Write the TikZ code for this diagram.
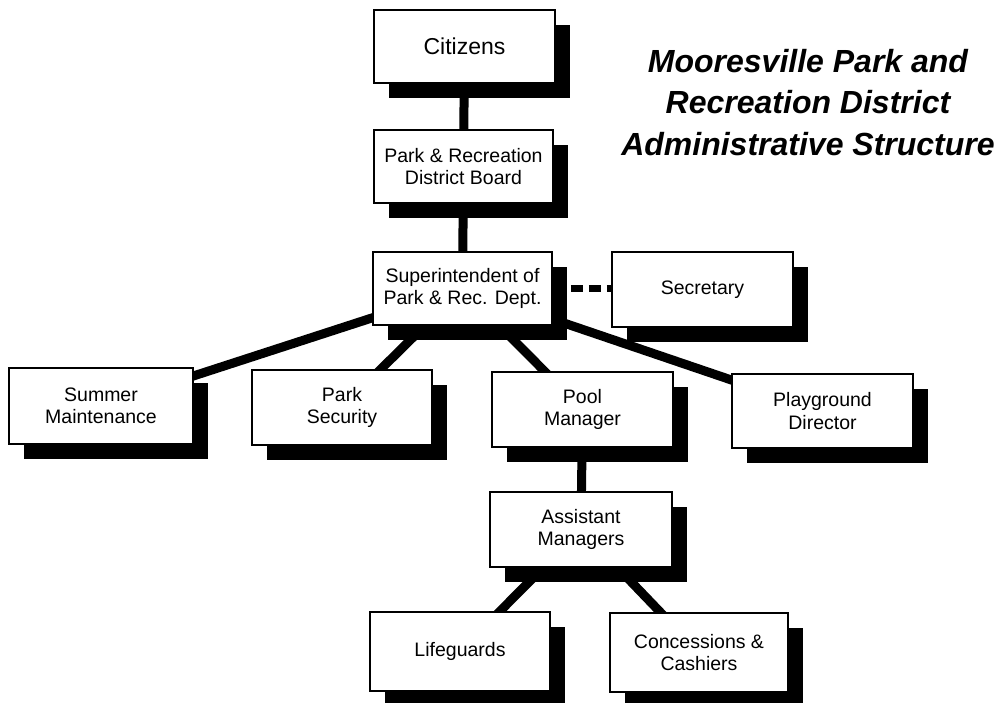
\documentclass[tikz,border=0pt]{standalone}
\usepackage{fontspec}
\setmainfont{Liberation Sans}
\usetikzlibrary{shadows,backgrounds}
\begin{document}
\begin{tikzpicture}[x=1pt,y=-1pt,
  box/.style={draw=black, line width=1.6pt, fill=white, inner sep=0pt, align=center,
    font=\fontsize{19.5}{22.5}\selectfont,
    drop shadow={shadow xshift=15pt, shadow yshift=-15pt, fill=black, opacity=1}},
  link/.style={line width=9pt},
  dashlink/.style={line width=6.5pt, dash pattern=on 12pt off 6pt}]
\useasboundingbox (0,0) rectangle (1006,702);
% boxes
\node[box, minimum width=181pt, minimum height=73pt, font=\fontsize{23}{26}\selectfont] (cit) at (464.5,46.5) {Citizens};
\node[box, minimum width=179pt, minimum height=73pt] (board) at (463.5,166.5) {Park \& Recreation\\District Board};
\node[box, minimum width=179pt, minimum height=73pt] (sup) at (462.5,288.5) {Superintendent of\\Park \& Rec. Dept.};
\node[box, minimum width=181pt, minimum height=75pt] (sec) at (702.5,289.5) {Secretary};
\node[box, minimum width=184pt, minimum height=76pt] (sum) at (101,406) {Summer\\Maintenance};
\node[box, minimum width=180pt, minimum height=75pt] (secu) at (342,407.5) {Park\\Security};
\node[box, minimum width=181pt, minimum height=75pt] (pool) at (582.5,409.5) {Pool\\Manager};
\node[box, minimum width=181pt, minimum height=74pt] (play) at (822.5,411) {Playground\\Director};
\node[box, minimum width=182pt, minimum height=75pt] (asst) at (581,529.5) {Assistant\\Managers};
\node[box, minimum width=180pt, minimum height=79pt] (life) at (460,651.5) {Lifeguards};
\node[box, minimum width=178pt, minimum height=79pt] (conc) at (699,652.5) {Concessions \&\\Cashiers};
% title
\node[anchor=north, inner sep=0pt, align=center,
  font=\fontsize{32}{41.5}\selectfont\bfseries\itshape] (title) at (808,49)
  {Mooresville Park and\\Recreation District\\Administrative Structure};
% connectors
\begin{scope}[on background layer]
\draw[link] (cit.center) -- (board.center);
\draw[link] (board.center) -- (sup.center);
\draw[link] (sup.center) -- (sum.center);
\draw[link] (sup.center) -- (secu.center);
\draw[link] (sup.center) -- (pool.center);
\draw[link] (sup.center) -- (play.center);
\draw[link] (pool.center) -- (asst.center);
\draw[link] (asst.center) -- (life.center);
\draw[link] (asst.center) -- (conc.center);
\draw[dashlink] (sup.east) -- (sup.east -| sec.west);
\end{scope}
\end{tikzpicture}
\end{document}
